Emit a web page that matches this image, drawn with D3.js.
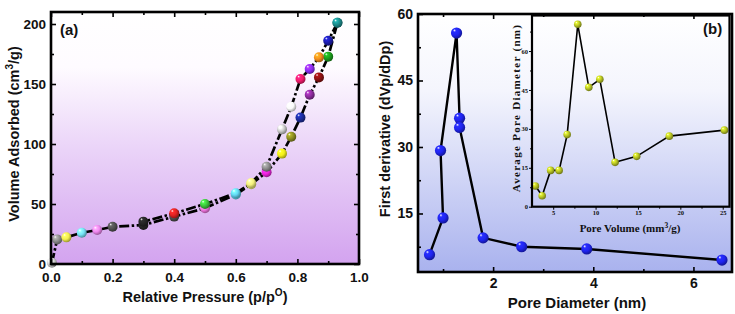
<!DOCTYPE html>
<meta charset="utf-8">
<head>
  <title>Isotherm and pore size distribution</title>
</head>

<style>
body { margin: 0; background: #fff; }
text { font-family: "Liberation Sans", Arial, sans-serif; font-weight: bold; fill: #111; }
.inset text { font-family: "Liberation Serif", "Times New Roman", serif; }
.axis path { display: none; }
.axis line { stroke: #000; stroke-width: 1.6; }
.inset .axis line { stroke-width: 1; }
.frame { fill: none; stroke: #000; stroke-width: 2.6; }
</style>

<body>
  <svg width="735" height="314"></svg>

  <script src="https://cdnjs.cloudflare.com/ajax/libs/d3/7.8.5/d3.min.js"></script>
  <script>

// panel (a): adsorption / desorption isotherm
var adsP = [0.003, 0.02, 0.05, 0.1, 0.15, 0.2, 0.3, 0.4, 0.5, 0.6, 0.65, 0.7, 0.75, 0.78, 0.81, 0.84, 0.87, 0.9, 0.93];
var adsV = [1, 20.5, 22.2, 26, 28.3, 31, 32.5, 39.5, 46.5, 58, 66.5, 76.5, 92, 106, 122, 141, 155.5, 172.8, 201];
var adsColors = ["#cfcfcf", "#8c8c8c", "#f4ef4e", "#74e2f6", "#ee86ee", "#505050", "#262626", "#4c4c4c", "#f276e2",
                 "#62d6f4", "#f4f07c", "#ee24de", "#f2ee1c", "#8c8c22", "#1c2c9c", "#8c2c9c", "#8c1212", "#1c9c1c", "#1c8c8c"];
var desP = [0.93, 0.9, 0.87, 0.84, 0.81, 0.78, 0.75, 0.7, 0.65, 0.6, 0.5, 0.4, 0.3];
var desV = [201, 186, 172.2, 162.5, 154.2, 131, 112.2, 81, 67.5, 59, 50, 42.2, 35.3];
var desColors = ["#1c8c8c", "#1c1cac", "#f28c1c", "#8c2cf2", "#f21c6c", "#fafafa", "#cacaca", "#8c8c8c",
                 "#f4f07c", "#62d6f4", "#3cc23c", "#e22222", "#262626"];
var aXTicks = [0, 0.2, 0.4, 0.6, 0.8, 1.0];
var aXMinor = [0.1, 0.3, 0.5, 0.7, 0.9];
var aYTicks = [0, 50, 100, 150, 200];
var aYMinor = [25, 75, 125, 175];

// panel (b): first derivative vs pore diameter
var poreD = [0.73, 1.0, 0.95, 1.27, 1.33, 1.33, 1.8, 2.57, 3.87, 6.57];
var deriv = [5.7, 14.0, 29.2, 55.7, 36.5, 34.4, 9.5, 7.5, 7.0, 4.5];
var bXTicks = [2, 4, 6];
var bXMinor = [1, 3, 5];
var bYTicks = [15, 30, 45, 60];
var bYMinor = [7.5, 22.5, 37.5, 52.5];

// inset: average pore diameter vs pore volume
var poreVol = [2.9, 3.7, 4.7, 5.7, 6.65, 7.9, 9.2, 10.5, 12.3, 14.85, 18.7, 25.2];
var avgDia = [8.0, 4.2, 14.0, 14.0, 27.8, 70.3, 46.0, 49.1, 17.1, 19.4, 27.2, 29.5];
var iXTicks = [5, 10, 15, 20, 25];
var iXMinor = [7.5, 12.5, 17.5, 22.5];
var iYTicks = [0, 15, 30, 45, 60];
var iYMinor = [7.5, 22.5, 37.5, 52.5, 67.5];

var svg = d3.select("svg");
var defs = svg.append("defs");

function linGrad(id, stops) {
  var g = defs.append("linearGradient").attr("id", id)
    .attr("x1", 0).attr("y1", 0).attr("x2", 0).attr("y2", 1);
  stops.forEach(function(s) {
    g.append("stop").attr("offset", s[0]).attr("stop-color", s[1]);
  });
}
linGrad("bgA", [["0%", "#ffffff"], ["22%", "#fefbff"], ["55%", "#ead3f8"], ["100%", "#d3a3ef"]]);
linGrad("bgB", [["0%", "#ffffff"], ["30%", "#f4f5fd"], ["100%", "#a9b2ee"]]);

// shiny ball gradients, one per colour
var ballIds = {};
function ball(c) {
  if (ballIds[c]) return "url(#" + ballIds[c] + ")";
  var id = "ball" + Object.keys(ballIds).length;
  ballIds[c] = id;
  var col = d3.color(c);
  var g = defs.append("radialGradient").attr("id", id)
    .attr("cx", "40%").attr("cy", "38%").attr("r", "62%")
    .attr("fx", "30%").attr("fy", "25%");
  g.append("stop").attr("offset", "0%").attr("stop-color", "#ffffff");
  g.append("stop").attr("offset", "22%").attr("stop-color", col.brighter(0.7));
  g.append("stop").attr("offset", "60%").attr("stop-color", col);
  g.append("stop").attr("offset", "100%").attr("stop-color", col.darker(1.3));
  return "url(#" + id + ")";
}

function drawAxes(g, x, y, xt, xm, yt, ym, fmt, o) {
  var x0 = x.range()[0], x1 = x.range()[1], y0 = y.range()[0], y1 = y.range()[1];
  g.append("g").attr("class", "axis").attr("transform", "translate(0," + y0 + ")")
    .call(d3.axisBottom(x).tickValues(xt).tickSizeInner(-o.tick).tickSizeOuter(0).tickPadding(o.xpad).tickFormat(fmt.x))
    .call(function(a) { a.selectAll("text").style("font-size", o.font + "px").attr("fill", "#111"); });
  g.append("g").attr("class", "axis").attr("transform", "translate(0," + y0 + ")")
    .call(d3.axisBottom(x).tickValues(xm).tickSizeInner(-o.minor).tickSizeOuter(0).tickFormat(""));
  g.append("g").attr("class", "axis").attr("transform", "translate(" + x0 + ",0)")
    .call(d3.axisLeft(y).tickValues(yt).tickSizeInner(-o.tick).tickSizeOuter(0).tickPadding(o.ypad).tickFormat(fmt.y))
    .call(function(a) { a.selectAll("text").style("font-size", o.font + "px").attr("fill", "#111"); });
  g.append("g").attr("class", "axis").attr("transform", "translate(" + x0 + ",0)")
    .call(d3.axisLeft(y).tickValues(ym).tickSizeInner(-o.minor).tickSizeOuter(0).tickFormat(""));
  if (o.top) {
    g.append("g").attr("class", "axis").attr("transform", "translate(0," + y1 + ")")
      .call(d3.axisTop(x).tickValues(xt).tickSizeInner(-o.tick).tickSizeOuter(0).tickFormat(""));
    g.append("g").attr("class", "axis").attr("transform", "translate(0," + y1 + ")")
      .call(d3.axisTop(x).tickValues(xm).tickSizeInner(-o.minor).tickSizeOuter(0).tickFormat(""));
  }
  if (o.right) {
    g.append("g").attr("class", "axis").attr("transform", "translate(" + x1 + ",0)")
      .call(d3.axisRight(y).tickValues(yt).tickSizeInner(-o.tick).tickSizeOuter(0).tickFormat(""));
    g.append("g").attr("class", "axis").attr("transform", "translate(" + x1 + ",0)")
      .call(d3.axisRight(y).tickValues(ym).tickSizeInner(-o.minor).tickSizeOuter(0).tickFormat(""));
  }
}

// ---------- panel (a) ----------
var xA = d3.scaleLinear().domain([0, 1]).range([51, 359]);
var yA = d3.scaleLinear().domain([0, 210]).range([264, 12]);
var gA = svg.append("g");

gA.append("rect").attr("x", 51).attr("y", 12).attr("width", 308).attr("height", 252).attr("fill", "url(#bgA)");

var lineA = d3.line().x(function(d) { return xA(d[0]); }).y(function(d) { return yA(d[1]); });
var ads = d3.zip(adsP, adsV, adsColors);
var des = d3.zip(desP, desV, desColors);

[ads, des].forEach(function(s) {
  gA.append("path").datum(s).attr("d", lineA)
    .attr("fill", "none").attr("stroke", "#000").attr("stroke-width", 2.7)
    .attr("stroke-dasharray", "10,2.5,2.5,2.5");
});
[ads, des].forEach(function(s) {
  gA.selectAll(null).data(s).enter().append("circle")
    .attr("cx", function(d) { return xA(d[0]); })
    .attr("cy", function(d) { return yA(d[1]); })
    .attr("r", 5)
    .attr("fill", function(d) { return ball(d[2]); });
});

drawAxes(gA, xA, yA, aXTicks, aXMinor, aYTicks, aYMinor,
  { x: d3.format(".1f"), y: d3.format("d") },
  { tick: 5, minor: 3, xpad: 8, ypad: 5, font: 13.5, top: true, right: true });

gA.append("rect").attr("class", "frame").attr("x", 51).attr("y", 12).attr("width", 308).attr("height", 252);

gA.append("text").attr("x", 60).attr("y", 35).style("font-size", "15px").text("(a)");
var tA = gA.append("text").attr("x", 205).attr("y", 302).attr("text-anchor", "middle").style("font-size", "14.5px");
tA.append("tspan").text("Relative Pressure (p/p");
tA.append("tspan").attr("dy", -6).style("font-size", "10px").text("O");
tA.append("tspan").attr("dy", 6).text(")");
var yTA = gA.append("text").attr("transform", "translate(19,134) rotate(-90)").attr("text-anchor", "middle").style("font-size", "14.5px");
yTA.append("tspan").text("Volume Adsorbed (cm");
yTA.append("tspan").attr("dy", -6).style("font-size", "10px").text("3");
yTA.append("tspan").attr("dy", 6).text("/g)");

// ---------- panel (b) ----------
var xB = d3.scaleLinear().domain([0.5, 6.77]).range([418, 732]);
var yB = d3.scaleLinear().domain([1.8, 60]).range([272, 14]);
var gB = svg.append("g");

gB.append("rect").attr("x", 418).attr("y", 14).attr("width", 314).attr("height", 258).attr("fill", "url(#bgB)");

var lineB = d3.line().x(function(d) { return xB(d[0]); }).y(function(d) { return yB(d[1]); });
var ptsB = d3.zip(poreD, deriv);
gB.append("path").datum(ptsB).attr("d", lineB)
  .attr("fill", "none").attr("stroke", "#000").attr("stroke-width", 2.4);
gB.selectAll(null).data(ptsB).enter().append("circle")
  .attr("cx", function(d) { return xB(d[0]); })
  .attr("cy", function(d) { return yB(d[1]); })
  .attr("r", 5.6)
  .attr("fill", ball("#1f24f0"));

drawAxes(gB, xB, yB, bXTicks, bXMinor, bYTicks, bYMinor,
  { x: d3.format("d"), y: d3.format("d") },
  { tick: 5, minor: 3, xpad: 6, ypad: 5, font: 14, top: true, right: false });

// inset
var xI = d3.scaleLinear().domain([2.5, 25.8]).range([532, 729.5]);
var yI = d3.scaleLinear().domain([0, 73.7]).range([206.7, 15.5]);
var gI = gB.append("g").attr("class", "inset");

var lineI = d3.line().x(function(d) { return xI(d[0]); }).y(function(d) { return yI(d[1]); });
var ptsI = d3.zip(poreVol, avgDia);
gI.append("path").datum(ptsI).attr("d", lineI)
  .attr("fill", "none").attr("stroke", "#000").attr("stroke-width", 1.6);
gI.selectAll(null).data(ptsI).enter().append("circle")
  .attr("cx", function(d) { return xI(d[0]); })
  .attr("cy", function(d) { return yI(d[1]); })
  .attr("r", 3.8)
  .attr("fill", ball("#b4c024"));

gI.append("g").attr("class", "axis").attr("transform", "translate(0,206.7)")
  .call(d3.axisBottom(xI).tickValues(iXTicks).tickSizeInner(3).tickSizeOuter(0).tickPadding(1).tickFormat(d3.format("d")))
  .call(function(a) { a.selectAll("text").style("font-size", "6.5px").attr("fill", "#333"); });
gI.append("g").attr("class", "axis").attr("transform", "translate(0,206.7)")
  .call(d3.axisBottom(xI).tickValues(iXMinor).tickSizeInner(2).tickSizeOuter(0).tickFormat(""));
gI.append("g").attr("class", "axis").attr("transform", "translate(532,0)")
  .call(d3.axisLeft(yI).tickValues(iYTicks).tickSizeInner(3).tickSizeOuter(0).tickPadding(1).tickFormat(d3.format("d")))
  .call(function(a) { a.selectAll("text").style("font-size", "6.5px").attr("fill", "#333"); });
gI.append("g").attr("class", "axis").attr("transform", "translate(532,0)")
  .call(d3.axisLeft(yI).tickValues(iYMinor).tickSizeInner(2).tickSizeOuter(0).tickFormat(""));

gI.append("rect").attr("class", "frame").attr("x", 532).attr("y", 15.5).attr("width", 197.5).attr("height", 191.2)
  .style("stroke-width", 2.2);

var tI = gI.append("text").attr("x", 630).attr("y", 232).attr("text-anchor", "middle").style("font-size", "11px");
tI.append("tspan").text("Pore Volume (mm");
tI.append("tspan").attr("dy", -4).style("font-size", "7.5px").text("3");
tI.append("tspan").attr("dy", 4).text("/g)");
gI.append("text").attr("transform", "translate(520,108) rotate(-90)").attr("text-anchor", "middle")
  .style("font-size", "11px").style("letter-spacing", "1.3px").text("Average Pore Diameter (nm)");

gB.append("rect").attr("class", "frame").attr("x", 418).attr("y", 14).attr("width", 314).attr("height", 258);

gB.append("text").attr("x", 703).attr("y", 34).style("font-size", "15px").text("(b)");
gB.append("text").attr("x", 577).attr("y", 308).attr("text-anchor", "middle").style("font-size", "15px").text("Pore Diameter (nm)");
gB.append("text").attr("transform", "translate(390,129) rotate(-90)").attr("text-anchor", "middle")
  .style("font-size", "14.5px").text("First derivative (dVp/dDp)");

  </script>
</body>
</html>
